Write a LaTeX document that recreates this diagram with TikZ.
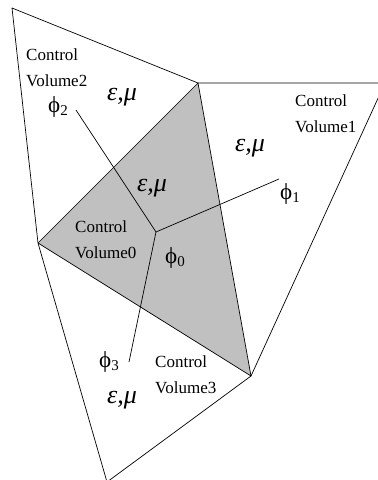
\documentclass[tikz,border=0pt]{standalone}
\usepackage{fontspec}
\setmainfont{Liberation Serif}
\tikzset{
  edge/.style={draw=black, line width=0.7pt, line join=round},
  cvlabel/.style={anchor=west, align=left, inner sep=0pt, font=\fontsize{17}{26}\selectfont},
  philabel/.style={inner sep=0pt, font=\fontsize{23}{24}\selectfont},
  emlabel/.style={inner sep=0pt, font=\fontsize{26}{26}\selectfont\itshape},
}
\newcommand{\myphi}[1]{\char"03D5\raisebox{-0.3ex}{\fontsize{15}{15}\selectfont #1}}
\begin{document}
\begin{tikzpicture}[x=1pt,y=-1pt]
\useasboundingbox (0,0) rectangle (378,480);
\clip (0,0) rectangle (378,480);
\coordinate (A) at (12,8);
\coordinate (B) at (198,83);
\coordinate (D) at (38,243);
\coordinate (C) at (251,376);
\coordinate (E) at (107,482);
\coordinate (R) at (385,83);
\coordinate (P) at (156,232);
\coordinate (Q1) at (279,179);
\coordinate (Q2) at (76,110);
\coordinate (Q3) at (129,362);
\fill[fill={rgb,255:red,192;green,192;blue,192}] (D) -- (B) -- (C) -- cycle;
\draw[edge] (A) -- (B) -- (R) -- (C) -- (E) -- (D) -- cycle;
\draw[edge] (D) -- (B) -- (C) -- (D);
\draw[edge] (P) -- (Q1);
\draw[edge] (P) -- (Q2);
\draw[edge] (P) -- (Q3);
\node[cvlabel] (cv2) at (26,68) {Control\\Volume2};
\node[cvlabel] (cv1) at (295,114) {Control\\Volume1};
\node[cvlabel] (cv0) at (75,240) {Control\\Volume0};
\node[cvlabel] (cv3) at (155,375) {Control\\Volume3};
\node[philabel] (p2) at (58,107) {\myphi{2}};
\node[philabel] (p1) at (290,194) {\myphi{1}};
\node[philabel] (p0) at (175,258) {\myphi{0}};
\node[philabel] (p3) at (109,362) {\myphi{3}};
\node[emlabel] (em2) at (122,97) {ε,μ};
\node[emlabel] (em0) at (152,188) {ε,μ};
\node[emlabel] (em1) at (250,148) {ε,μ};
\node[emlabel] (em3) at (122,400) {ε,μ};
\end{tikzpicture}
\end{document}
